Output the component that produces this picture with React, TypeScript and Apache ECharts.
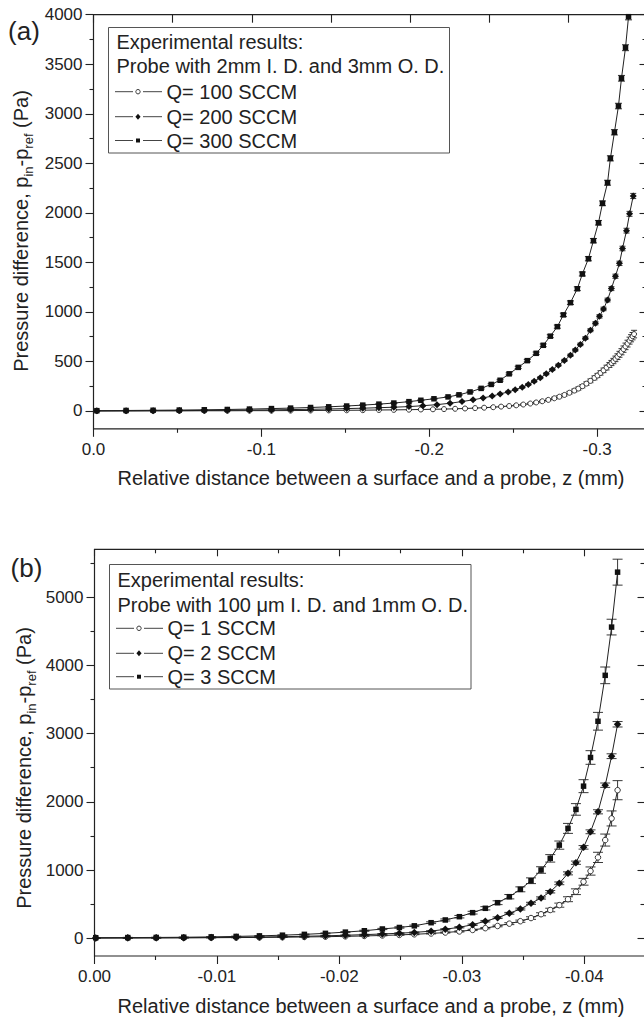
import React, { useEffect, useRef } from 'react';
import * as echarts from 'echarts';

// ---------- Chart (a): probe 2mm I.D. / 3mm O.D. ----------
const zA300 = [-0.002, -0.0194, -0.0355, -0.0511, -0.066, -0.0797, -0.0929, -0.106, -0.1174, -0.1293, -0.1401, -0.1508, -0.1604, -0.17, -0.1789, -0.1879,
  -0.195, -0.2028, -0.2112, -0.2177, -0.2243, -0.2309, -0.2369, -0.2422, -0.2476, -0.253, -0.2584, -0.2637, -0.2679, -0.2721, -0.2763, -0.2799, -0.2841, -0.2882, -0.2912, -0.2948, -0.2978, -0.3008, -0.3032, -0.3062, -0.3079, -0.3103, -0.3127, -0.3145, -0.3169, -0.3187];
const pA300 = [3, 5, 7, 9, 12, 15, 19, 24, 29, 35, 42, 50, 59, 69, 80, 94,
  108, 123, 142, 163, 192, 228, 268, 310, 375, 440, 508, 582, 663, 755, 851, 970, 1093, 1234, 1383, 1537, 1719, 1900, 2096, 2304, 2550, 2813, 3078, 3358, 3667, 3980];
const eA300 = [1, 1, 1, 1, 1, 1, 2, 2, 2, 2, 2, 3, 3, 3, 3, 4,
  4, 5, 5, 6, 6, 7, 8, 9, 10, 11, 12, 13, 14, 15, 16, 17, 18, 19, 20, 21, 22, 23, 24, 25, 26, 27, 28, 29, 30, 32];

const zA200 = [-0.002, -0.0194, -0.0355, -0.0511, -0.066, -0.0797, -0.0929, -0.106, -0.1174, -0.1293, -0.1401, -0.1508, -0.1604, -0.17, -0.1789, -0.1879,
  -0.1962, -0.2046, -0.2124, -0.2195, -0.2261, -0.2321, -0.2375, -0.2422, -0.247, -0.2512, -0.2554, -0.259, -0.2625, -0.2661, -0.2697, -0.2733, -0.2769, -0.2805, -0.2841, -0.287, -0.29, -0.293, -0.296, -0.299, -0.3014, -0.3038, -0.3062, -0.3085, -0.3109, -0.3133, -0.3151, -0.3175, -0.3193, -0.3215];
const pA200 = [1, 2, 3, 4, 5, 7, 9, 11, 14, 17, 20, 24, 28, 33, 38, 44,
  53, 64, 78, 95, 112, 132, 150, 172, 192, 214, 240, 268, 300, 335, 375, 418, 462, 510, 562, 615, 672, 735, 815, 885, 955, 1030, 1120, 1235, 1360, 1490, 1640, 1820, 1990, 2170];
const eA200 = [1, 1, 1, 1, 1, 1, 1, 1, 1, 1, 1, 2, 2, 2, 2, 2,
  3, 3, 4, 4, 5, 5, 6, 6, 7, 7, 8, 8, 9, 9, 10, 10, 11, 11, 12, 12, 13, 14, 15, 16, 17, 18, 19, 20, 21, 22, 23, 24, 25, 26];

const zA100 = [-0.002, -0.0194, -0.0355, -0.0511, -0.066, -0.0797, -0.0929, -0.106, -0.1174, -0.1293, -0.1401, -0.1508, -0.1604, -0.17, -0.1789, -0.1879,
  -0.195, -0.2022, -0.2088, -0.2154, -0.2213, -0.2273, -0.2327, -0.2381, -0.2428, -0.2476, -0.2518, -0.256, -0.2602, -0.2637, -0.2673, -0.2709, -0.2745, -0.2775, -0.2805, -0.2835, -0.2864, -0.2888, -0.2912, -0.2936, -0.296, -0.2984, -0.3002, -0.302, -0.3038, -0.3056, -0.3073, -0.3085, -0.3097, -0.3109, -0.3121, -0.3133, -0.3145, -0.3157, -0.3169, -0.3181, -0.3193, -0.3202, -0.3211, -0.322];
const pA100 = [0, 0, 1, 1, 2, 2, 3, 3, 4, 5, 6, 7, 8, 10, 11, 13,
  15, 17, 19, 22, 25, 29, 33, 38, 44, 50, 57, 65, 75, 86, 98, 112, 128, 144, 162, 184, 206, 226, 250, 276, 304, 334, 358, 384, 410, 438, 464, 484, 504, 526, 548, 572, 598, 624, 652, 680, 710, 734, 755, 776];
const eA100 = [1, 1, 1, 1, 1, 1, 1, 1, 1, 1, 2, 2, 2, 2, 2, 2,
  3, 3, 3, 3, 4, 4, 4, 5, 5, 6, 6, 7, 8, 8, 9, 10, 11, 12, 13, 14, 15, 16, 17, 18, 19, 20, 21, 22, 23, 24, 25, 26, 27, 28, 29, 30, 31, 32, 33, 34, 35, 36, 37, 38];

const xTicksA = [0, -0.1, -0.2, -0.3];
const xMinorA = [-0.05, -0.15, -0.25];
const yTicksA = [0, 500, 1000, 1500, 2000, 2500, 3000, 3500, 4000];
const yMinorA = [250, 750, 1250, 1750, 2250, 2750, 3250, 3750];

// ---------- Chart (b): probe 100 um I.D. / 1mm O.D. ----------
const zB = [-0.0001, -0.00272, -0.00504, -0.00729, -0.00953, -0.01157, -0.01347, -0.01535, -0.01714, -0.01886, -0.02049, -0.02204, -0.02351, -0.0249, -0.02612, -0.02749, -0.02865, -0.0298, -0.03088, -0.03192, -0.03292, -0.03388, -0.03478, -0.03565, -0.03647, -0.03722, -0.03796, -0.03867, -0.03932, -0.03994, -0.04051, -0.04112, -0.04171, -0.04223, -0.04272];
const pB3 = [8, 10, 12, 15, 20, 27, 35, 45, 57, 72, 90, 110, 136, 158, 182, 228, 268, 316, 375, 439, 521, 609, 717, 843, 1000, 1171, 1365, 1610, 1888, 2229, 2649, 3180, 3853, 4560, 5365];
const eB3 = [3, 3, 3, 3, 3, 4, 4, 5, 5, 6, 7, 8, 9, 10, 11, 13, 15, 18, 20, 24, 28, 32, 36, 42, 48, 55, 60, 73, 85, 95, 100, 130, 122, 115, 190];
const pB2 = [5, 6, 7, 9, 11, 14, 18, 23, 29, 36, 44, 53, 63, 74, 86, 104, 132, 161, 198, 250, 301, 366, 428, 512, 590, 682, 805, 951, 1107, 1332, 1560, 1853, 2243, 2668, 3136];
const eB2 = [2, 2, 2, 2, 2, 3, 3, 3, 3, 4, 4, 5, 5, 6, 6, 7, 8, 9, 10, 11, 12, 13, 14, 15, 16, 18, 20, 22, 24, 26, 28, 30, 32, 35, 40];
const pB1 = [3, 4, 5, 6, 8, 10, 12, 15, 19, 23, 28, 34, 41, 49, 58, 70, 84, 100, 122, 148, 180, 214, 250, 296, 352, 414, 485, 572, 682, 828, 985, 1185, 1439, 1756, 2170];
const eB1 = [2, 2, 2, 2, 2, 3, 3, 3, 3, 4, 4, 4, 5, 5, 6, 6, 7, 8, 9, 10, 12, 14, 16, 19, 22, 26, 30, 36, 42, 50, 60, 75, 88, 110, 140];

const xTicksB = [0, -0.01, -0.02, -0.03, -0.04];
const xMinorB = [-0.005, -0.015, -0.025, -0.035];
const yTicksB = [0, 1000, 2000, 3000, 4000, 5000];
const yMinorB = [500, 1500, 2500, 3500, 4500, 5500];

const FONT = "'Liberation Sans', Arial, Helvetica, sans-serif";
const INK = '#222';

function makeAxis(extra: any) {
  return {
    type: 'value',
    axisLine: { show: false, onZero: false },
    splitLine: { show: false },
    axisLabel: { show: false },
    axisTick: { show: false },
    ...extra,
  };
}

function tickSet(values: number[], len: number, inside: boolean) {
  return { show: true, customValues: values, length: len, inside, lineStyle: { color: INK, width: 1.1 } };
}

function labelSet(values: number[], fmt: (v: number) => string, margin: number) {
  return { show: true, customValues: values, formatter: fmt, fontSize: 17, fontFamily: FONT, color: INK, margin };
}

function errSeries(z: number[], p: number[], e: number[], xi: number, yi: number, cap: number) {
  return {
    type: 'custom',
    xAxisIndex: xi,
    yAxisIndex: yi,
    silent: true,
    clip: true,
    z: 3,
    encode: { x: 0, y: [1, 2] },
    data: z.map((x, i) => [x, p[i] - e[i], p[i] + e[i]]),
    renderItem: (_params: any, api: any) => {
      const lo = api.coord([api.value(0), api.value(1)]);
      const hi = api.coord([api.value(0), api.value(2)]);
      const st = { stroke: INK, lineWidth: 0.9 };
      return {
        type: 'group',
        children: [
          { type: 'line', shape: { x1: lo[0], y1: lo[1], x2: hi[0], y2: hi[1] }, style: st },
          { type: 'line', shape: { x1: lo[0] - cap, y1: lo[1], x2: lo[0] + cap, y2: lo[1] }, style: st },
          { type: 'line', shape: { x1: hi[0] - cap, y1: hi[1], x2: hi[0] + cap, y2: hi[1] }, style: st },
        ],
      };
    },
  };
}

function lineSeries(name: string, z: number[], p: number[], xi: number, yi: number, symbol: string, size: number, open: boolean) {
  return {
    name,
    type: 'line',
    xAxisIndex: xi,
    yAxisIndex: yi,
    data: z.map((x, i) => [x, p[i]]),
    symbol,
    symbolSize: size,
    showSymbol: true,
    showAllSymbol: true,
    clip: true,
    z: 4,
    lineStyle: { color: INK, width: 1 },
    itemStyle: open ? { color: '#fff', borderColor: INK, borderWidth: 0.9 } : { color: '#111' },
  };
}

function legendGraphics(box: { x: number; y: number; w: number; h: number }, header: string[], labels: string[], rows: number[]) {
  const els: any[] = [];
  els.push({ type: 'rect', shape: { x: box.x, y: box.y, width: box.w, height: box.h }, style: { fill: '#fff', stroke: '#555', lineWidth: 1 }, z: 50 });
  const tx = box.x + 8;
  header.forEach((t, i) => {
    els.push({ type: 'text', x: tx, y: rows[i], z: 51, style: { text: t, fontSize: 20, fontFamily: FONT, fill: INK, align: 'left', verticalAlign: 'middle' } });
  });
  const syms = ['circle', 'diamond', 'square'];
  labels.forEach((t, i) => {
    const y = rows[header.length + i];
    const lx = box.x + 6.5;
    const ls = { stroke: '#444', lineWidth: 1 };
    els.push({ type: 'line', z: 51, shape: { x1: lx, y1: y, x2: lx + 18, y2: y }, style: ls });
    els.push({ type: 'line', z: 51, shape: { x1: lx + 28, y1: y, x2: lx + 47, y2: y }, style: ls });
    const cx = lx + 23;
    if (syms[i] === 'circle') {
      els.push({ type: 'circle', z: 52, shape: { cx, cy: y, r: 2.2 }, style: { fill: '#fff', stroke: INK, lineWidth: 0.9 } });
    } else if (syms[i] === 'diamond') {
      els.push({ type: 'polygon', z: 52, shape: { points: [[cx, y - 3], [cx + 2.6, y], [cx, y + 3], [cx - 2.6, y]] }, style: { fill: '#111' } });
    } else {
      els.push({ type: 'rect', z: 52, shape: { x: cx - 2, y: y - 2, width: 4, height: 4 }, style: { fill: '#111' } });
    }
    els.push({ type: 'text', x: lx + 51.5, y, z: 51, style: { text: t, fontSize: 20, fontFamily: FONT, fill: INK, align: 'left', verticalAlign: 'middle' } });
  });
  return els;
}

function yTitle(x: number, y: number) {
  return {
    type: 'text',
    x,
    y,
    rotation: Math.PI / 2,
    z: 40,
    style: {
      text: 'Pressure difference, p{s|in}-p{s|ref} (Pa)',
      fontSize: 20,
      fontFamily: FONT,
      fill: INK,
      lineHeight: 28,
      align: 'center',
      verticalAlign: 'middle',
      rich: { s: { fontSize: 13, fontFamily: FONT, fill: INK, lineHeight: 13, verticalAlign: 'bottom' } },
    },
  };
}

function xTitle(x: number, y: number) {
  return {
    type: 'text', x, y, z: 40,
    style: { text: 'Relative distance between a surface and a probe, z (mm)', fontSize: 20, fontFamily: FONT, fill: INK, align: 'center', verticalAlign: 'middle' },
  };
}

export default function App() {
  const ref = useRef<HTMLDivElement>(null);
  useEffect(() => {
    if (!ref.current) return;
    const chart = echarts.init(ref.current, undefined, { renderer: 'svg' });
    const fmtA = (v: number) => (v === 0 ? '0.0' : v.toFixed(1));
    const fmtB = (v: number) => (v === 0 ? '0.00' : v.toFixed(2));
    const fmtY = (v: number) => String(Math.round(v));
    const gridBase = { show: true, borderColor: INK, borderWidth: 1.2, backgroundColor: 'transparent', containLabel: false, outerBoundsMode: 'none' };

    const option: any = {
      animation: false,
      backgroundColor: '#fff',
      grid: [
        { ...gridBase, left: 93.5, top: 14.7, width: 554, height: 414.1 },
        { ...gridBase, left: 94.5, top: 549.3, width: 551, height: 406.7 },
      ],
      xAxis: [
        makeAxis({ gridIndex: 0, position: 'bottom', min: -0.33, max: 0, inverse: true, axisLabel: labelSet(xTicksA, fmtA, 12), axisTick: tickSet(xTicksA, 8, false) }),
        makeAxis({ gridIndex: 0, position: 'bottom', min: -0.33, max: 0, inverse: true, axisTick: tickSet(xMinorA, 4, false) }),
        makeAxis({ gridIndex: 0, position: 'top', min: 0, max: 7, interval: 1, axisTick: { show: true, inside: true, length: 8, lineStyle: { color: INK, width: 1.1 } } }),
        makeAxis({ gridIndex: 1, position: 'bottom', min: -0.045, max: 0, inverse: true, axisLabel: labelSet(xTicksB, fmtB, 12), axisTick: tickSet(xTicksB, 8, false) }),
        makeAxis({ gridIndex: 1, position: 'bottom', min: -0.045, max: 0, inverse: true, axisTick: tickSet(xMinorB, 4, false) }),
        makeAxis({ gridIndex: 1, position: 'top', min: -0.045, max: 0, inverse: true, axisTick: tickSet(xTicksB, 7, true) }),
        makeAxis({ gridIndex: 1, position: 'top', min: -0.045, max: 0, inverse: true, axisTick: tickSet(xMinorB, 4, true) }),
      ],
      yAxis: [
        makeAxis({ gridIndex: 0, position: 'left', min: -180, max: 4000, axisLabel: labelSet(yTicksA, fmtY, 11), axisTick: tickSet(yTicksA, 8, false) }),
        makeAxis({ gridIndex: 0, position: 'left', min: -180, max: 4000, axisTick: tickSet(yMinorA, 4, false) }),
        makeAxis({ gridIndex: 0, position: 'right', min: -180, max: 4000, axisTick: tickSet(yTicksA, 8, true) }),
        makeAxis({ gridIndex: 0, position: 'right', min: -180, max: 4000, axisTick: tickSet(yMinorA, 5, true) }),
        makeAxis({ gridIndex: 1, position: 'left', min: -260, max: 5700, axisLabel: labelSet(yTicksB, fmtY, 11), axisTick: tickSet(yTicksB, 8, false) }),
        makeAxis({ gridIndex: 1, position: 'left', min: -260, max: 5700, axisTick: tickSet(yMinorB, 4, false) }),
        makeAxis({ gridIndex: 1, position: 'right', min: -260, max: 5700, axisTick: tickSet(yTicksB, 8, true) }),
        makeAxis({ gridIndex: 1, position: 'right', min: -260, max: 5700, axisTick: tickSet(yMinorB, 5, true) }),
      ],
      series: [
        errSeries(zA100, pA100, eA100, 0, 0, 3),
        errSeries(zA200, pA200, eA200, 0, 0, 3),
        errSeries(zA300, pA300, eA300, 0, 0, 3.5),
        lineSeries('Q= 100 SCCM', zA100, pA100, 0, 0, 'circle', 5, true),
        lineSeries('Q= 200 SCCM', zA200, pA200, 0, 0, 'diamond', 7, false),
        lineSeries('Q= 300 SCCM', zA300, pA300, 0, 0, 'rect', 5.5, false),
        errSeries(zB, pB1, eB1, 3, 4, 5),
        errSeries(zB, pB2, eB2, 3, 4, 5),
        errSeries(zB, pB3, eB3, 3, 4, 5),
        lineSeries('Q= 1 SCCM', zB, pB1, 3, 4, 'circle', 5.5, true),
        lineSeries('Q= 2 SCCM', zB, pB2, 3, 4, 'diamond', 7.5, false),
        lineSeries('Q= 3 SCCM', zB, pB3, 3, 4, 'rect', 5.5, false),
      ],
      graphic: [
        { type: 'text', x: 24, y: 31, z: 40, style: { text: '(a)', fontSize: 26, fontFamily: FONT, fill: INK, align: 'center', verticalAlign: 'middle' } },
        { type: 'text', x: 26.5, y: 568, z: 40, style: { text: '(b)', fontSize: 26, fontFamily: FONT, fill: INK, align: 'center', verticalAlign: 'middle' } },
        yTitle(21, 231),
        yTitle(24, 768),
        xTitle(371, 478),
        xTitle(371, 1006),
        ...legendGraphics({ x: 108.5, y: 27.5, w: 341, h: 125.5 },
          ['Experimental results:', 'Probe with 2mm I. D. and 3mm O. D.'],
          ['Q= 100 SCCM', 'Q= 200 SCCM', 'Q= 300 SCCM'],
          [41.7, 66, 91.7, 116.7, 140.5]),
        ...legendGraphics({ x: 109.5, y: 564.5, w: 361.5, h: 124.5 },
          ['Experimental results:', 'Probe with 100 \u03bcm I. D. and 1mm O. D.'],
          ['Q= 1 SCCM', 'Q= 2 SCCM', 'Q= 3 SCCM'],
          [580, 605, 628.3, 653.3, 676.7]),
      ],
    };
    chart.setOption(option);
    return () => chart.dispose();
  }, []);
  return (
    <div style={{ position: 'absolute', left: 0, top: 0, width: 644, height: 1021, overflow: 'hidden', background: '#fff' }}>
      <div ref={ref} style={{ width: 700, height: 1021 }} />
    </div>
  );
}
